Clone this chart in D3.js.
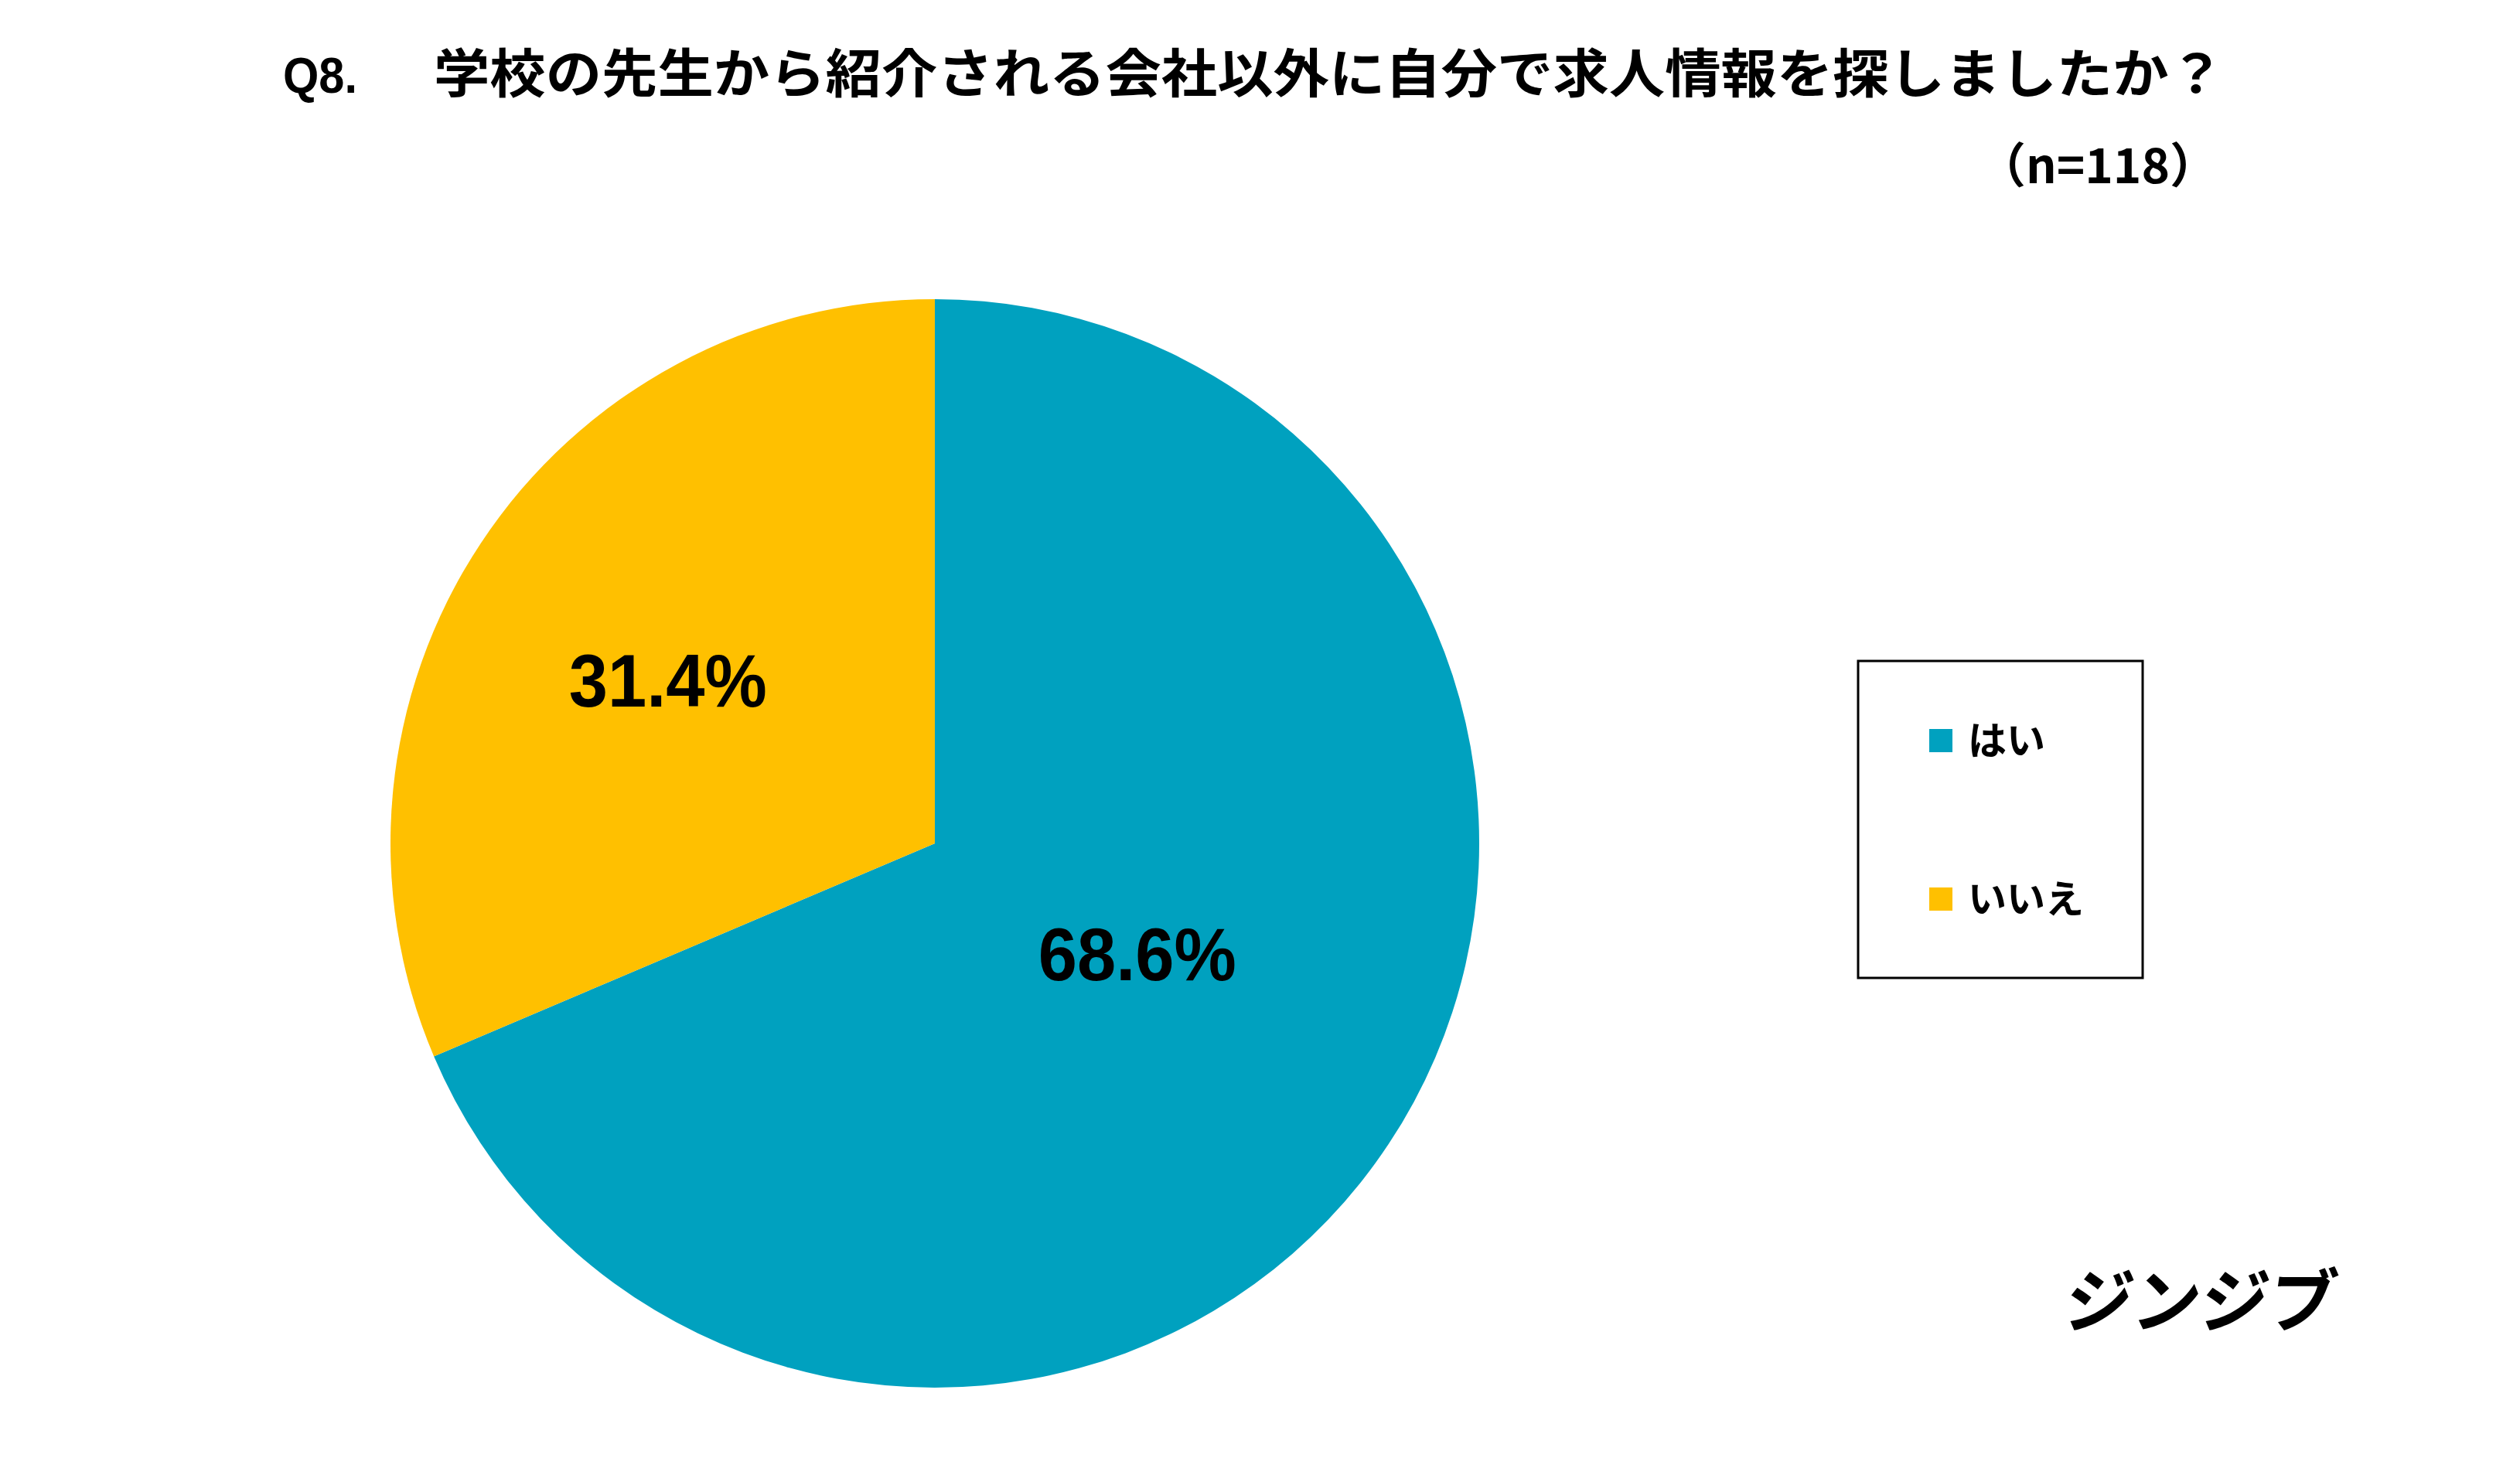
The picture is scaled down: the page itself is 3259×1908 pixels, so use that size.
<!DOCTYPE html>
<html>
<head>
<meta charset="utf-8">
<script src="https://cdn.jsdelivr.net/npm/d3@7"></script>
<style>
	body { margin: 0; background: #ffffff; }
	text { font-family: "Noto Sans CJK JP", "Noto Sans", sans-serif; }
	text.latin { font-family: "Liberation Sans", Arial, sans-serif; }
</style>
</head>
<body>
<div id="chart"></div>
<script>
// Q8 pie chart - yes / no
const categories = ["はい", "いいえ"];
const values = [68.6, 31.4];
const sampleSize = 118;
const titleNo = "Q8.";
const titleText = "学校の先生から紹介される会社以外に自分で求人情報を探しましたか？";
const brand = "ジンジブ";

const W = 3259, H = 1908;
const cx = 1209, cy = 1091, r = 704;

const color = d3.scaleOrdinal()
	.domain(categories)
	.range(["#00a1bf", "#ffc000"]);

const svg = d3.select("#chart").append("svg")
	.attr("width", W)
	.attr("height", H);

svg.append("rect").attr("width", W).attr("height", H).attr("fill", "#ffffff");

//title
svg.append("text")
	.attr("class", "latin")
	.attr("x", 366).attr("y", 120)
	.attr("font-size", 64).attr("font-weight", 700)
	.attr("textLength", 96).attr("lengthAdjust", "spacingAndGlyphs")
	.text(titleNo);

svg.append("text")
	.attr("x", 561).attr("y", 120)
	.attr("font-size", 68).attr("font-weight", 700)
	.attr("textLength", 2316).attr("lengthAdjust", "spacingAndGlyphs")
	.text(titleText);

svg.append("text")
	.attr("x", 2868).attr("y", 237)
	.attr("text-anchor", "end")
	.attr("font-size", 62).attr("font-weight", 700)
	.text("（n=" + sampleSize + "）");

//pie
const pie = d3.pie().sort(null).value(d => d.value);
const arcs = pie(categories.map((c, i) => ({ name: c, value: values[i] })));
const arc = d3.arc().innerRadius(0).outerRadius(r);

const g = svg.append("g").attr("transform", "translate(" + cx + "," + cy + ")");

g.selectAll("path.slice")
	.data(arcs)
	.enter().append("path")
	.attr("class", "slice")
	.attr("d", arc)
	.attr("fill", d => color(d.data.name));

// labels sit at different depths / slight angle shift, like the original
const labelDepth = [0.423, 0.575];
const labelTurn = [-5, -2]; // degrees
g.selectAll("text.pct")
	.data(arcs)
	.enter().append("text")
	.attr("class", "pct latin")
	.attr("transform", (d, i) => {
		const lr = r * labelDepth[i];
		const a = (d.startAngle + d.endAngle) / 2 + labelTurn[i] * Math.PI / 180;
		return "translate(" + (lr * Math.sin(a)) + "," + (-lr * Math.cos(a)) + ")";
	})
	.attr("text-anchor", "middle")
	.attr("dy", "0.36em")
	.attr("font-weight", 700)
	.attr("font-size", 96)
	.attr("textLength", 256).attr("lengthAdjust", "spacingAndGlyphs")
	.text(d => d.data.value.toFixed(1) + "%");

//legend
const legend = svg.append("g");
legend.append("rect")
	.attr("x", 2403).attr("y", 855)
	.attr("width", 368).attr("height", 410)
	.attr("fill", "none")
	.attr("stroke", "#000").attr("stroke-width", 3);

const legendY = d3.scalePoint().domain(categories).range([958, 1163]);

const items = legend.selectAll("g.item")
	.data(categories)
	.enter().append("g")
	.attr("class", "item")
	.attr("transform", d => "translate(2495," + legendY(d) + ")");

items.append("rect")
	.attr("x", 0).attr("y", -15)
	.attr("width", 30).attr("height", 30)
	.attr("fill", d => color(d));

items.append("text")
	.attr("x", 50).attr("y", 0)
	.attr("dy", "0.36em")
	.attr("font-size", 50).attr("font-weight", 700)
	.text(d => d);

//brand mark
svg.append("text")
	.attr("transform", "translate(2667,1716) skewX(-8)")
	.attr("font-size", 90).attr("font-weight", 700)
	.attr("textLength", 350).attr("lengthAdjust", "spacingAndGlyphs")
	.text(brand);
</script>
</body>
</html>
